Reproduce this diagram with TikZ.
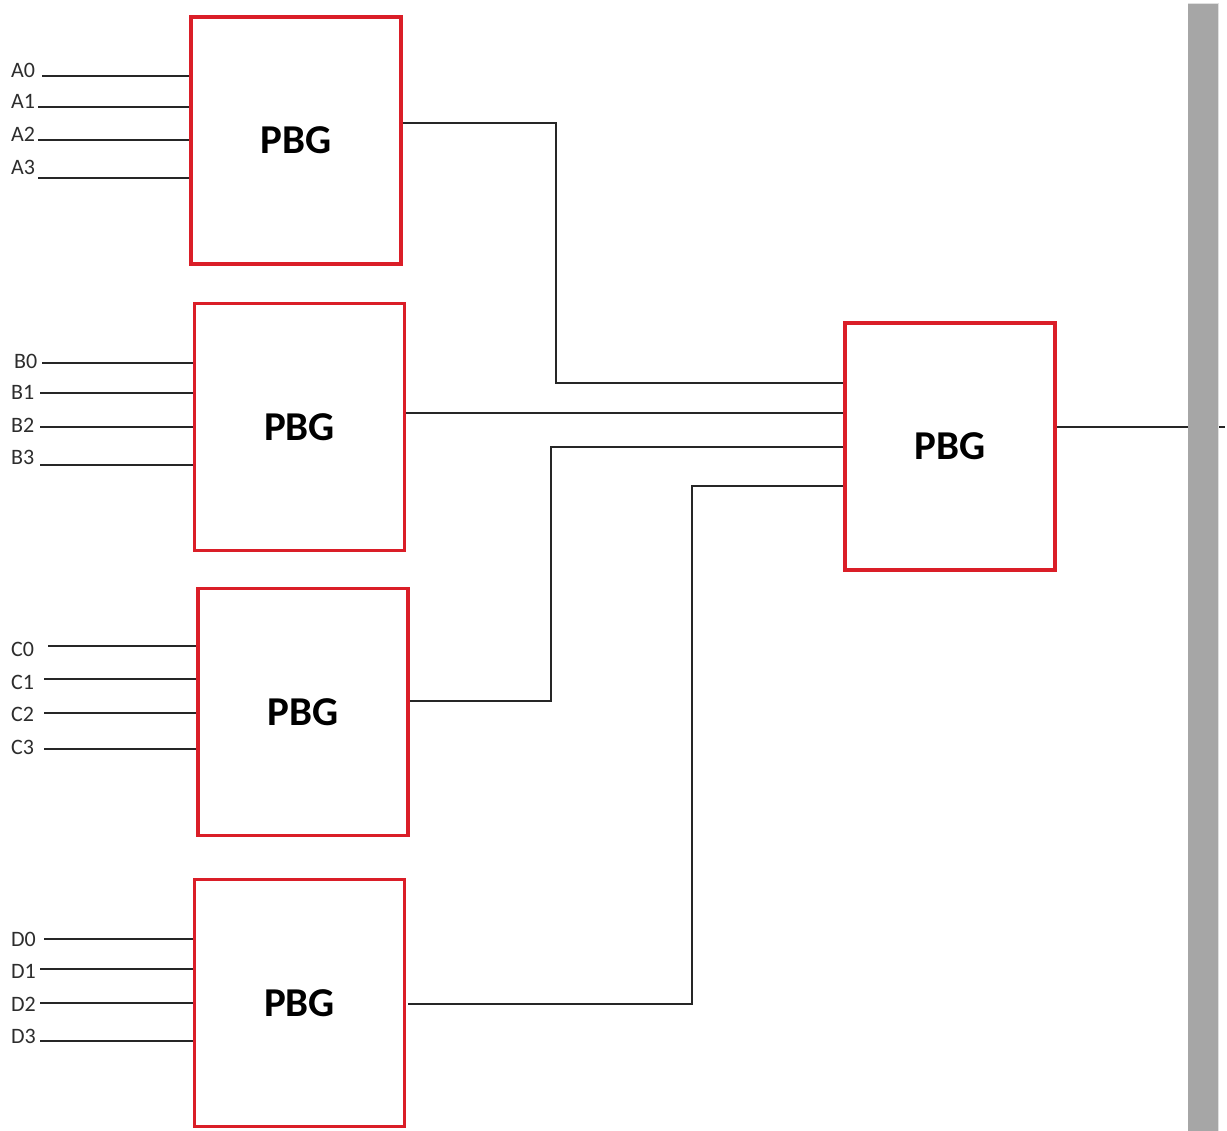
\documentclass[tikz,border=0pt]{standalone}
\usepackage{fontspec}
\setmainfont{Carlito}
\definecolor{boxred}{RGB}{218,30,40}
\definecolor{bargray}{RGB}{166,166,166}
\definecolor{lblgray}{RGB}{45,45,45}
\begin{document}
\begin{tikzpicture}[x=1pt,y=-1pt,
  pbg/.style={draw=boxred,line width=3.5pt,minimum width=210pt,minimum height=247pt,inner sep=0pt,font=\fontsize{41}{44}\selectfont\bfseries,text=black},
  lbl/.style={anchor=base west,inner sep=0pt,font=\fontsize{22}{24}\selectfont,text=lblgray},
  wire/.style={line width=1.4pt,black!85}]
\useasboundingbox (0,0) rectangle (1227,1131);
\fill[white] (0,0) rectangle (1227,1131);
% boxes
\node[pbg] (A) at (296,140.5) {PBG};
\node[pbg] (B) at (299.5,427) {PBG};
\node[pbg] (C) at (303,712) {PBG};
\node[pbg] (D) at (299.5,1003) {PBG};
\node[pbg] (F) at (950,446.5) {PBG};
% input labels
\node[lbl] (la0) at (11,78) {A0};
\node[lbl] (la1) at (11,109) {A1};
\node[lbl] (la2) at (11,142) {A2};
\node[lbl] (la3) at (11,175) {A3};
\node[lbl] (lb0) at (14,369) {B0};
\node[lbl] (lb1) at (11,400) {B1};
\node[lbl] (lb2) at (11,433) {B2};
\node[lbl] (lb3) at (11,465) {B3};
\node[lbl] (lc0) at (11,656) {C0};
\node[lbl] (lc1) at (11,689) {C1};
\node[lbl] (lc2) at (11,721) {C2};
\node[lbl] (lc3) at (11,754) {C3};
\node[lbl] (ld0) at (11,946) {D0};
\node[lbl] (ld1) at (11,978) {D1};
\node[lbl] (ld2) at (11,1011) {D2};
\node[lbl] (ld3) at (11,1043) {D3};
% input wire start points
\coordinate (ia0) at (42,76);
\coordinate (ia1) at (38,107);
\coordinate (ia2) at (38,140);
\coordinate (ia3) at (38,178);
\coordinate (ib0) at (42,363);
\coordinate (ib1) at (40,393);
\coordinate (ib2) at (40,427);
\coordinate (ib3) at (40,465);
\coordinate (ic0) at (48,646);
\coordinate (ic1) at (44,679);
\coordinate (ic2) at (44,713);
\coordinate (ic3) at (44,749);
\coordinate (id0) at (44,939);
\coordinate (id1) at (40,969);
\coordinate (id2) at (40,1003);
\coordinate (id3) at (40,1041);
\foreach \p/\b in {a0/A,a1/A,a2/A,a3/A,b0/B,b1/B,b2/B,b3/B,c0/C,c1/C,c2/C,c3/C,d0/D,d1/D,d2/D,d3/D}
  \draw[wire] (i\p) -- (i\p -| \b.west);
% connectors to final PBG
\coordinate (ya) at (0,123);
\coordinate (yb) at (0,413);
\coordinate (yc) at (0,701);
\coordinate (yd) at (0,1004);
\coordinate (ka) at (556,383);
\coordinate (kb) at (0,413);
\coordinate (kc) at (551,447);
\coordinate (kd) at (692,486);
\draw[wire] (A.east |- ya) -| (ka) -- (ka -| F.west);
\draw[wire] (B.east |- yb) -- (F.west |- kb);
\draw[wire] (C.east |- yc) -| (kc) -- (kc -| F.west);
\draw[wire] ([xshift=2pt]D.east |- yd) -| (kd) -- (kd -| F.west);
% output
\coordinate (out) at (1225,427);
\draw[wire] (F.east |- out) -- (out);
% gray bar
\fill[bargray] (1188,3) rectangle (1218,1131);
\draw[black!12,line width=0.8pt] (1188,3.4) -- (1218,3.4) (1218.4,3) -- (1218.4,1131);
\end{tikzpicture}
\end{document}
